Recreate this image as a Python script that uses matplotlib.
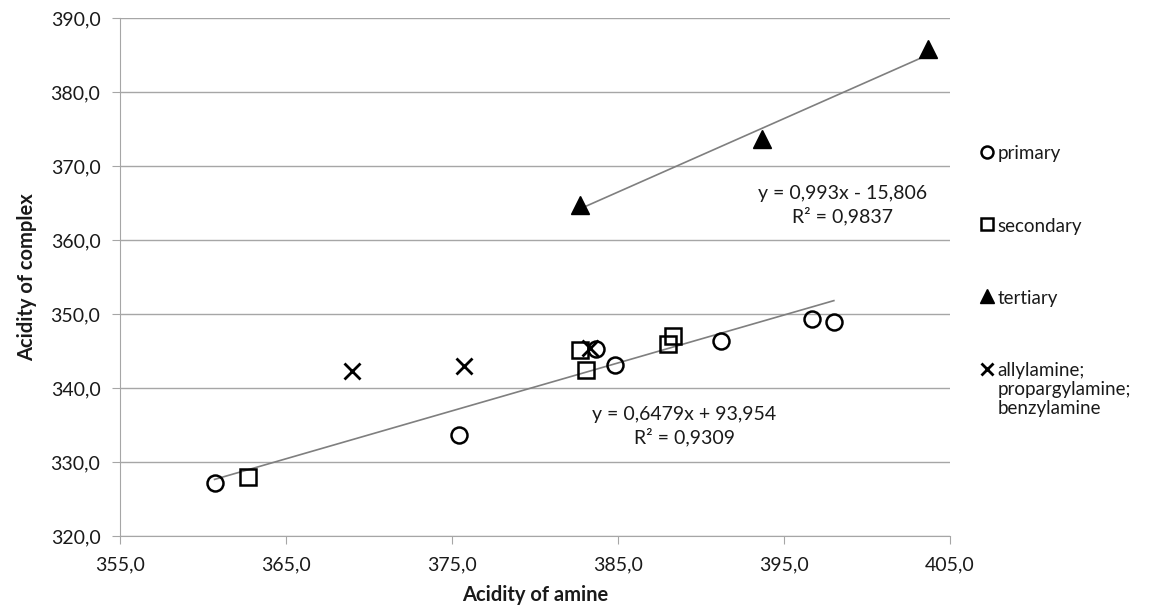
import matplotlib
matplotlib.use("Agg")
import matplotlib.pyplot as plt
from matplotlib.ticker import FuncFormatter
import numpy as np

plt.rcParams['font.family'] = ['Lato', 'DejaVu Sans']

# Data
primary_x = [360.7, 375.4, 383.7, 384.8, 391.2, 396.7, 398.0]
primary_y = [327.2, 333.6, 345.3, 343.1, 346.3, 349.3, 348.9]
secondary_x = [362.7, 382.7, 383.1, 388.0, 388.3]
secondary_y = [328.0, 345.2, 342.4, 346.0, 347.1]
tertiary_x = [382.7, 393.7, 403.7]
tertiary_y = [364.8, 373.7, 385.9]
other_x = [369.0, 375.7, 383.3]
other_y = [342.3, 343.0, 345.4]

fit_low = (0.6479, 93.954)
fit_high = (0.993, -15.806)
eq_low = "y = 0,6479x + 93,954\nR² = 0,9309"
eq_high = "y = 0,993x - 15,806\nR² = 0,9837"

labels = ["primary", "secondary", "tertiary", "allylamine;\npropargylamine;\nbenzylamine"]
xticks = [355, 365, 375, 385, 395, 405]
yticks = [320, 330, 340, 350, 360, 370, 380, 390]

fig = plt.figure(figsize=(11.53, 6.06), dpi=100)
ax = fig.add_axes([0.104, 0.1155, 0.720, 0.8545])

grid_c = '#a6a6a6'
txt_c = '#1a1a1a'
ms = 11.5
mew = 1.8
ax.plot(primary_x, primary_y, 'o', ms=ms, mfc='none', mec='black', mew=mew, label=labels[0], zorder=3)
ax.plot(secondary_x, secondary_y, 's', ms=ms, mfc='none', mec='black', mew=mew, label=labels[1], zorder=3)
ax.plot(tertiary_x, tertiary_y, '^', ms=13, mfc='black', mec='black', mew=1, label=labels[2], zorder=3)
ax.plot(other_x, other_y, 'x', ms=11, mec='black', mew=2.0, label=labels[3], zorder=3)

# trendlines
lx = np.array([min(primary_x + secondary_x), max(primary_x + secondary_x)])
ax.plot(lx, fit_low[0] * lx + fit_low[1], color='#7f7f7f', lw=1.2, zorder=2)
hx = np.array([min(tertiary_x), max(tertiary_x)])
ax.plot(hx, fit_high[0] * hx + fit_high[1], color='#7f7f7f', lw=1.2, zorder=2)

ax.text(398.5, 364.7, eq_high, ha='center', va='center',
        fontsize=14, color=txt_c, multialignment='center', linespacing=1.3)
ax.text(389.0, 334.9, eq_low, ha='center', va='center',
        fontsize=14, color=txt_c, multialignment='center', linespacing=1.3)

ax.set_xlim(355, 405)
ax.set_ylim(320, 390)
ax.set_xticks(xticks)
ax.set_yticks(yticks)
f = FuncFormatter(lambda v, p: f"{v:.1f}".replace('.', ','))
ax.xaxis.set_major_formatter(f)
ax.yaxis.set_major_formatter(f)
ax.tick_params(labelsize=14, colors=txt_c, length=6, color=grid_c)
ax.tick_params(axis='x', pad=9)
ax.tick_params(axis='y', pad=8)
ax.grid(axis='y', color=grid_c, lw=1)
ax.set_axisbelow(True)
for s in ['top', 'right']:
    ax.spines[s].set_visible(False)
for s in ['left', 'bottom']:
    ax.spines[s].set_color(grid_c)

ax.set_xlabel("Acidity of amine", fontsize=14.5, fontweight='bold', labelpad=8, color=txt_c)
ax.set_ylabel("Acidity of complex", fontsize=14.5, fontweight='bold', labelpad=10, color=txt_c)

leg = ax.legend(loc='upper left', bbox_to_anchor=(1.022, 0.780), frameon=False, fontsize=13.5,
                handlelength=0.6, handletextpad=0.25, labelspacing=2.95, markerscale=0.75,
                borderaxespad=0.3)
for t in leg.get_texts():
    t.set_color(txt_c)
    t.set_linespacing(1.15)
# align the marker of the multi-line entry with its first line
try:
    col = leg._legend_handle_box.get_children()[0]
    for hp in col.get_children():
        hp.align = "top"
except Exception:
    pass

fig.savefig("out.png", dpi=100)
